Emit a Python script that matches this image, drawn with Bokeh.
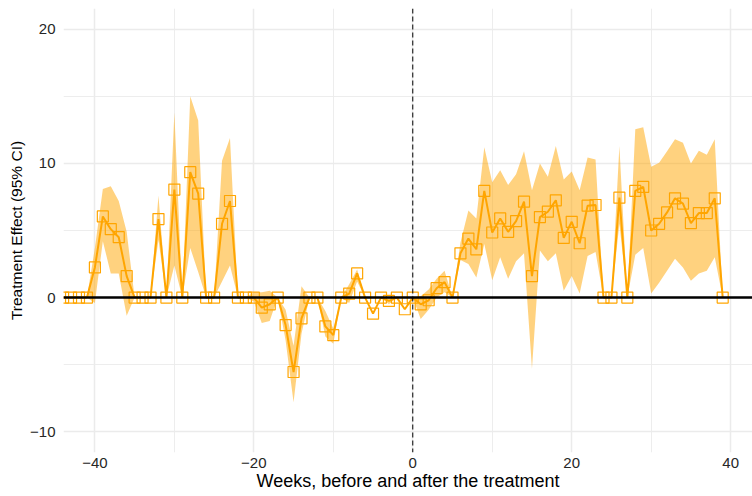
from bokeh.plotting import figure
from bokeh.models import FixedTicker, Span, ColumnDataSource, Range1d
from bokeh.embed import file_html
from bokeh.resources import INLINE

weeks = list(range(-44, 40))
effect = [0, 0, 0, 0,
          2.25, 6.05, 5.1, 4.5, 1.6,
          0, 0, 0, 5.85, 0,
          8.05, 0, 9.35, 7.75, 0,
          0, 5.5, 7.2, 0, 0,
          0, -0.75, -0.5, 0, -2.05,
          -5.55, -1.55, 0, 0, -2.15,
          -2.8, 0, 0.3, 1.8, 0,
          -1.2, 0, -0.25, 0, -0.87,
          0, -0.5, -0.2, 0.7, 1.15,
          0, 3.3, 4.4, 3.6, 7.95,
          4.85, 5.9, 4.9, 5.7, 7.15,
          1.6, 6.0, 6.4, 7.25, 4.45,
          5.65, 4.05, 6.85, 6.9, 0,
          0, 7.45, 0, 7.95, 8.25,
          5.0, 5.5, 6.35, 7.4, 7.0,
          5.55, 6.3, 6.3, 7.4, 0]
ci_low = [0, 0, 0, 0,
          -0.4, 4.2, 1.8, 1.8, -1.35,
          0, 0, 0, 4.3, 0,
          2.4, 0, 3.7, 1.9, 0,
          0, 1.2, 2.4, 0, 0,
          -0.3, -1.9, -1.75, 0, -3.2,
          -7.8, -2.7, 0, 0, -2.9,
          -3.45, 0, -0.4, 1.2, 0,
          -1.2, 0, -0.5, 0, -0.87,
          0, -1.6, -0.9, 0.0, 0.4,
          0, 2.8, 2.5, 1.5, 4.0,
          1.3, 3.0, 1.4, 2.7, 3.3,
          -5.3, 3.5, 2.7, 3.3, 0.5,
          1.6, 0.3, 3.1, 3.4, 0,
          0, 5.5, 0, 3.2, 3.7,
          0.3, 1.1, 2.0, 2.9, 2.25,
          1.25, 1.8, 2.0, 3.0, 0]
ci_high = [0, 0, 0, 0,
           3.7, 8.1, 8.3, 7.2, 4.9,
           0, 0, 0, 7.6, 0,
           13.8, 0, 15.0, 13.2, 0,
           0, 10.2, 11.9, 0, 0,
           0.4, 0.4, 0.5, 0, -0.9,
           -3.6, 0.85, 0, 0, -1.0,
           -2.3, 0, 1.0, 2.1, 0,
           -1.2, 0, 0.0, 0, -0.87,
           0, 0.1, 0.6, 1.4, 2.0,
           0, 4.1, 6.5, 5.9, 11.2,
           8.6, 9.5, 8.4, 9.2, 10.9,
           8.0, 10.0, 9.0, 11.3, 8.8,
           9.4, 8.0, 10.45, 10.3, 0,
           0, 11.3, 0, 12.55, 12.7,
           9.75, 10.05, 10.9, 11.8, 11.55,
           10.0, 10.95, 10.65, 11.8, 0]

x_ticks = [-40, -20, 0, 20, 40]
x_minor = [-30, -10, 10, 30]
y_ticks = [-10, 0, 10, 20]
y_minor = [-5, 5, 15]
x_labels = {-40: "\u221240", -20: "\u221220", 0: "0", 20: "20", 40: "40"}
y_labels = {-10: "\u221210", 0: "0", 10: "10", 20: "20"}

src = ColumnDataSource(dict(x=weeks, y=effect, lo=ci_low, hi=ci_high))

p = figure(width=752, height=496, output_backend="svg", toolbar_location=None,
           x_range=Range1d(-43.95, 42.75), y_range=Range1d(-11.55, 21.55),
           min_border_left=63, min_border_right=0, min_border_top=8, min_border_bottom=44)
p.outline_line_color = None
p.background_fill_color = "white"
p.border_fill_color = "white"

FONT = "Liberation Sans"
p.xaxis.ticker = FixedTicker(ticks=x_ticks, minor_ticks=x_minor)
p.yaxis.ticker = FixedTicker(ticks=y_ticks, minor_ticks=y_minor)
p.xaxis.major_label_overrides = x_labels
p.yaxis.major_label_overrides = y_labels
for ax in (p.xaxis, p.yaxis):
    ax.axis_line_color = None
    ax.major_tick_line_color = None
    ax.minor_tick_line_color = None
    ax.major_tick_out = 0
    ax.minor_tick_out = 0
    ax.major_label_text_font = FONT
    ax.major_label_text_font_size = "15px"
    ax.major_label_text_color = "#262626"
    ax.axis_label_text_font = FONT
    ax.axis_label_text_font_style = "normal"
    ax.axis_label_text_color = "black"
p.xaxis.axis_label = "Weeks, before and after the treatment"
p.yaxis.axis_label = "Treatment Effect (95% CI)"
p.xaxis.axis_label_text_font_size = "18px"
p.yaxis.axis_label_text_font_size = "15.5px"
p.xaxis.major_label_standoff = 5
p.xaxis.axis_label_standoff = 0
p.yaxis.major_label_standoff = 8
p.yaxis.axis_label_standoff = 2

for g in (p.xgrid, p.ygrid):
    g.grid_line_color = "#EBEBEB"
    g.grid_line_width = 1.5
    g.minor_grid_line_color = "#EBEBEB"
    g.minor_grid_line_width = 0.9

p.varea(x="x", y1="lo", y2="hi", source=src, fill_color="#FFA500", fill_alpha=0.5)
p.line(x="x", y="y", source=src, line_color="#FFA500", line_width=2)
p.scatter(x="x", y="y", source=src, marker="square", size=11,
          fill_color=None, line_color="#FFA500", line_width=1.2)

p.add_layout(Span(location=0, dimension="width", line_color="black", line_width=2.5))
p.add_layout(Span(location=0, dimension="height", line_color="black", line_width=1,
                  line_dash="5 3"))

open("out.html", "w").write(file_html(p, INLINE))
